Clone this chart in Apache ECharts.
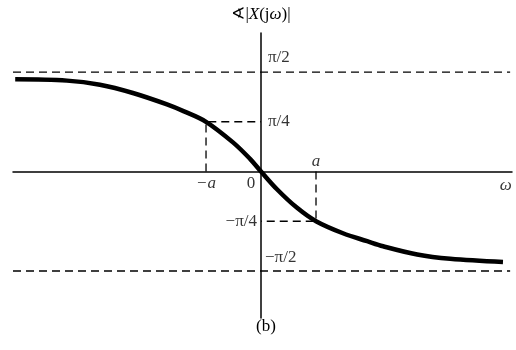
<!DOCTYPE html>
<html><head><meta charset="utf-8">
<script src="https://cdn.jsdelivr.net/npm/echarts@6/dist/echarts.min.js"></script>
<style>html,body{margin:0;padding:0;background:#fff}#c{width:516px;height:350px}</style>
</head><body><div id="c"></div>
<script>
// Phase curve (ω in units of a, phase in radians)
const curveX = [-4.47, -3.53, -2.93, -2.33, -1.71, -1.40, -1.0, -0.51, -0.20, 0, 0.29, 0.65, 1.0, 1.49, 1.93, 2.22, 2.84, 3.44, 4.40];
const curveY = [1.455, 1.435, 1.370, 1.240, 1.060, 0.950, 0.785, 0.460, 0.200, 0, -0.280, -0.570, -0.785, -0.975, -1.100, -1.180, -1.310, -1.378, -1.429];
// Reference levels
const asymptoteY = [Math.PI / 2, -Math.PI / 2];
const asymptoteX = [-4.51, 4.53];
const guideA = 1.0;
const guideLevel = Math.PI / 4;
// Tick labels
const labelText = ['π/2', 'π/4', '−π/4', '−π/2', '−a', '0', 'a', 'ω'];
const labelX = [0, 0, 0, 0, -1, 0, 1, 4.45];
const labelY = [Math.PI / 2, Math.PI / 4, -Math.PI / 4, -Math.PI / 2, 0, 0, 0, 0];
const labelPos = [
  { align: 'left', offset: [7, -14] },
  { align: 'left', offset: [7, 0] },
  { align: 'right', offset: [-4, 0] },
  { align: 'left', offset: [4, -13] },
  { align: 'center', offset: [0, 12] },
  { align: 'center', offset: [-10, 12] },
  { align: 'center', offset: [0, -10] },
  { align: 'center', offset: [0, 14] }
];
const caption = '(b)';

const font = "'Liberation Serif', 'Times New Roman', serif";
const dash = { color: '#000', width: 1.3, type: [8, 5] };

const series = [];
asymptoteY.forEach(v => {
  series.push({ type: 'line', data: [[asymptoteX[0], v], [asymptoteX[1], v]], symbol: 'none', lineStyle: dash, silent: true, z: 1 });
});
// guides at ±a
series.push({ type: 'line', data: [[-guideA, 0], [-guideA, guideLevel], [0, guideLevel]], symbol: 'none', lineStyle: dash, z: 1 });
series.push({ type: 'line', data: [[guideA, 0], [guideA, -guideLevel], [0, -guideLevel]], symbol: 'none', lineStyle: dash, z: 1 });
// main curve
series.push({
  type: 'line', data: curveX.map((x, i) => [x, curveY[i]]), symbol: 'none', smooth: 0.35,
  lineStyle: { color: '#000', width: 4.5, cap: 'butt' }, z: 5
});
// labels
series.push({
  type: 'scatter', symbolSize: 0, z: 10, silent: true,
  data: labelText.map((t, i) => ({
    value: [labelX[i], labelY[i]], name: t,
    label: {
      show: true, position: 'inside', formatter: t, align: labelPos[i].align, verticalAlign: 'middle',
      offset: labelPos[i].offset, color: '#000', fontFamily: font, fontSize: 17,
      fontStyle: (t.indexOf('a') >= 0 || t === 'ω') ? 'italic' : 'normal'
    }
  }))
});

const chart = echarts.init(document.getElementById('c'), null, { renderer: 'canvas' });
chart.setOption({
  animation: false,
  backgroundColor: '#fff',
  title: {
    text: caption, left: 261, top: 313, textAlign: 'center',
    textStyle: { fontFamily: font, fontSize: 17, fontWeight: 'normal', color: '#000' }
  },
  grid: { left: 13, right: 4, top: 33, bottom: 32 },
  xAxis: {
    type: 'value', min: -4.51, max: 4.564,
    axisLine: { onZero: true, lineStyle: { color: '#000', width: 1.5 } },
    axisTick: { show: false }, axisLabel: { show: false }, splitLine: { show: false }
  },
  yAxis: {
    type: 'value', min: -2.313, max: 2.187,
    name: '{a|∢|}{i|X}{a|(j}{i|ω}{a|)|}', nameLocation: 'end', nameGap: 10,
    nameTextStyle: {
      rich: {
        a: { fontFamily: font, fontSize: 17, color: '#000' },
        i: { fontFamily: font, fontSize: 17, fontStyle: 'italic', color: '#000' }
      }
    },
    axisLine: { onZero: true, lineStyle: { color: '#000', width: 1.5 } },
    axisTick: { show: false }, axisLabel: { show: false }, splitLine: { show: false }
  },
  series: series
});
</script></body></html>
